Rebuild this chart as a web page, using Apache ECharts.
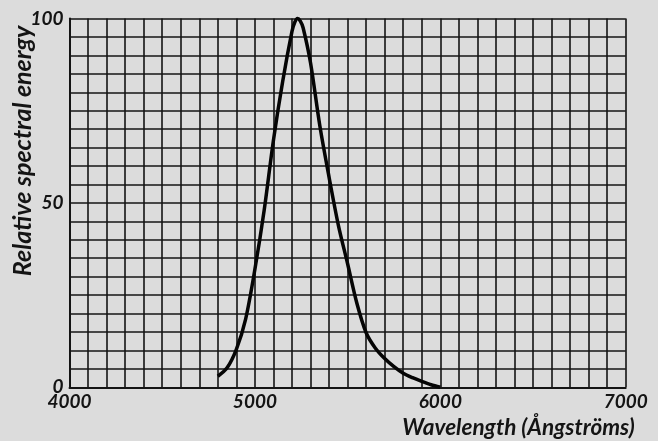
<!DOCTYPE html>
<html>
<head>
<meta charset="utf-8">
<script src="https://cdn.jsdelivr.net/npm/echarts@6/dist/echarts.min.js"></script>
<style>
html,body{margin:0;padding:0;background:#dcdcdc;}
#chart{width:658px;height:441px;}
</style>
</head>
<body>
<div id="chart"></div>
<script>
var wavelengths = [4800,4850,4900,4950,5000,5050,5100,5150,5200,5215,5230,5245,5260,5300,5350,5400,5450,5500,5550,5600,5650,5700,5750,5800,5850,5900,5950,6000];
var energy = [3,5.3,10.3,18.5,32,48,67,83,96.5,99,100,99.3,97.5,88,71,57,44,33.5,22.8,14.8,10.6,7.8,5.6,3.8,2.6,1.6,0.7,0];
var xLabelValues = [4000,5000,6000,7000];
var yLabelValues = [0,50,100];
var xName = 'Wavelength (Ångströms)';
var yName = 'Relative spectral energy';

var ink = '#141414';
var font = 'Lato';
var chart = echarts.init(document.getElementById('chart'), null, {renderer:'canvas'});
chart.setOption({
  backgroundColor: '#dcdcdc',
  animation: false,
  grid: {left: 69.5, top: 18.5, right: 32.3, bottom: 53.7, containLabel: false, outerBoundsMode: 'none'},
  xAxis: {
    type: 'value', min: 4000, max: 7000, interval: 100,
    name: xName, nameLocation: 'end', nameGap: 9, nameMoveOverlap: false,
    nameTextStyle: {fontFamily: font, fontStyle: 'italic', fontWeight: 'bold', fontSize: 22.5, color: ink, align: 'right', verticalAlign: 'top', padding: [29,0,0,0]},
    axisLine: {show: true, onZero: false, lineStyle: {color: ink, width: 2}},
    axisTick: {show: false},
    axisLabel: {
      margin: 5, fontFamily: font, fontStyle: 'italic', fontWeight: 'bold', fontSize: 19, color: ink,
      formatter: function(v){ return xLabelValues.indexOf(v) >= 0 ? String(v) : ''; }
    },
    splitLine: {show: true, lineStyle: {color: ink, width: 1.6}}
  },
  yAxis: {
    type: 'value', min: 0, max: 100, interval: 5,
    name: yName, nameLocation: 'middle', nameGap: 34, nameRotate: 90, nameMoveOverlap: false,
    nameTextStyle: {fontFamily: font, fontStyle: 'italic', fontWeight: 'bold', fontSize: 25, color: ink, padding: [0,0,0,104]},
    axisLine: {show: true, onZero: false, lineStyle: {color: ink, width: 2}},
    axisTick: {show: false},
    axisLabel: {
      margin: 6, fontFamily: font, fontStyle: 'italic', fontWeight: 'bold', fontSize: 19, color: ink,
      formatter: function(v){ return yLabelValues.indexOf(v) >= 0 ? String(v) : ''; }
    },
    splitLine: {show: true, lineStyle: {color: ink, width: 1.6}}
  },
  series: [{
    type: 'line',
    data: wavelengths.map(function(w,i){ return [w, energy[i]]; }),
    smooth: 0.3,
    showSymbol: false,
    lineStyle: {color: '#050505', width: 3.5},
    clip: false
  }]
});
</script>
</body>
</html>
